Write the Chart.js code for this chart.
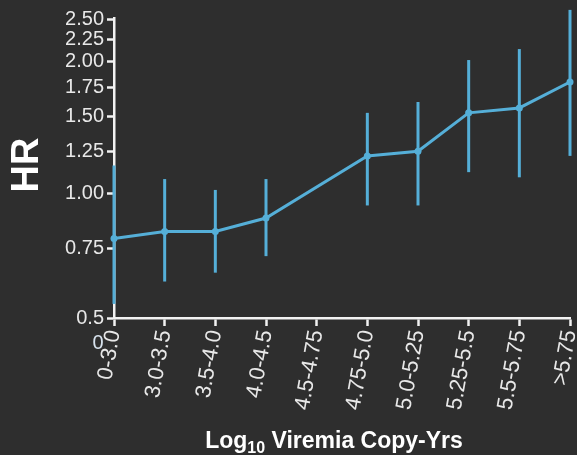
<!DOCTYPE html>
<html>
<head>
<meta charset="utf-8">
<script src="https://cdn.jsdelivr.net/npm/chart.js@4"></script>
<style>
  html, body { margin: 0; padding: 0; background: #2e2e2e; }
  #wrap { width: 577px; height: 455px; }
</style>
</head>
<body>
<div id="wrap"><canvas id="c" width="577" height="455"></canvas></div>
<script>
// Hazard ratio by cumulative viremia band, with 95% confidence limits
const categories = ['0-3.0', '3.0-3.5', '3.5-4.0', '4.0-4.5', '4.5-4.75', '4.75-5.0', '5.0-5.25', '5.25-5.5', '5.5-5.75', '>5.75'];
const hr     = [0.79, 0.82, 0.82, 0.88, null, 1.22, 1.25, 1.53, 1.57, 1.80];
const ciLow  = [0.56, 0.63, 0.66, 0.72, null, 0.94, 0.94, 1.12, 1.09, 1.22];
const ciHigh = [1.16, 1.08, 1.02, 1.08, null, 1.53, 1.62, 2.02, 2.14, 2.63];

// log axis from 0.52 to 2.52; the axis origin is labelled to one decimal
const yMin = 0.52;
const yMax = 2.52;
const yTicks      = [0.52, 0.75, 1, 1.25, 1.5, 1.75, 2, 2.25, 2.5];
const yTickLabels = ['0.5', '0.75', '1.00', '1.25', '1.50', '1.75', '2.00', '2.25', '2.50'];

const BG = '#2e2e2e';
const AXIS = '#f2f2f2';
const TEXT = '#e8e8e8';
const BLUE = '#55afd8';
const FONT = '"Liberation Sans", Arial, sans-serif';

const background = {
  id: 'background',
  beforeDraw(chart) {
    const ctx = chart.ctx;
    ctx.save();
    ctx.fillStyle = BG;
    ctx.fillRect(0, 0, chart.width, chart.height);
    ctx.restore();
  }
};

// vertical confidence-interval bars, no caps
const errorBars = {
  id: 'errorBars',
  afterDatasetsDraw(chart) {
    const { ctx, scales: { x, y } } = chart;
    ctx.save();
    ctx.strokeStyle = BLUE;
    ctx.lineWidth = 3;
    ctx.lineCap = 'butt';
    hr.forEach((v, i) => {
      if (v == null) return;
      const px = x.getPixelForValue(i);
      ctx.beginPath();
      ctx.moveTo(px, y.getPixelForValue(ciLow[i]));
      ctx.lineTo(px, y.getPixelForValue(ciHigh[i]));
      ctx.stroke();
    });
    ctx.restore();
  }
};

// axis titles: rotated "HR" and the x title with a subscript base
const axisTitles = {
  id: 'axisTitles',
  afterDraw(chart) {
    const { ctx, chartArea, scales: { y } } = chart;
    ctx.save();
    ctx.fillStyle = '#ffffff';

    // y title
    ctx.save();
    ctx.translate(28, (chartArea.top + chartArea.bottom) / 2 - 3);
    ctx.rotate(-Math.PI / 2);
    ctx.font = 'bold 38px ' + FONT;
    ctx.textAlign = 'center';
    ctx.textBaseline = 'middle';
    ctx.fillText('HR', 0, 0);
    ctx.restore();

    // x title
    const big = 'bold 23px ' + FONT;
    const small = 'bold 16px ' + FONT;
    ctx.textBaseline = 'alphabetic';
    ctx.textAlign = 'left';
    ctx.font = big;
    const w1 = ctx.measureText('Log').width;
    const w3 = ctx.measureText(' Viremia Copy-Yrs').width;
    ctx.font = small;
    const w2 = ctx.measureText('10').width;
    const total = w1 + w2 + w3;
    const cx = (chartArea.left + chartArea.right) / 2 - 8;
    let xx = cx - total / 2;
    const base = chart.height - 7;
    ctx.font = big;
    ctx.fillText('Log', xx, base);
    xx += w1;
    ctx.font = small;
    ctx.fillText('10', xx, base + 5);
    xx += w2;
    ctx.font = big;
    ctx.fillText(' Viremia Copy-Yrs', xx, base);

    // origin label below the y axis
    ctx.font = '20px ' + FONT;
    ctx.fillStyle = '#d8e3ee';
    ctx.textAlign = 'center';
    ctx.textBaseline = 'middle';
    ctx.fillText('0', y.right - 16, chartArea.bottom + 25);
    ctx.restore();
  }
};

new Chart(document.getElementById('c'), {
  type: 'line',
  data: {
    labels: categories,
    datasets: [{
      data: hr,
      borderColor: BLUE,
      backgroundColor: BLUE,
      borderWidth: 3,
      pointRadius: 3.5,
      pointHoverRadius: 3.5,
      pointBorderWidth: 0,
      tension: 0,
      spanGaps: true,
      clip: false
    }]
  },
  options: {
    responsive: false,
    animation: false,
    devicePixelRatio: 1,
    layout: { padding: { top: 18, right: 7, left: 0, bottom: 0 } },
    plugins: {
      legend: { display: false },
      tooltip: { enabled: false },
      title: { display: false }
    },
    scales: {
      x: {
        type: 'category',
        offset: false,
        grid: {
          drawOnChartArea: false,
          drawTicks: true,
          tickLength: 8,
          tickWidth: 2.5,
          tickColor: AXIS
        },
        border: { display: true, color: AXIS, width: 2.5 },
        ticks: {
          autoSkip: false,
          minRotation: 80,
          maxRotation: 80,
          color: TEXT,
          padding: 2,
          font: { family: FONT, size: 22 }
        },
        afterFit(s) {
          s.height = 137;
          s.paddingLeft = 0;
          s.paddingRight = 0;
        }
      },
      y: {
        type: 'logarithmic',
        min: yMin,
        max: yMax,
        grid: {
          drawOnChartArea: false,
          drawTicks: true,
          tickLength: 7,
          tickWidth: 2.5,
          tickColor: AXIS
        },
        border: { display: true, color: AXIS, width: 2.5 },
        afterBuildTicks(s) { s.ticks = yTicks.map(v => ({ value: v })); },
        ticks: {
          color: TEXT,
          padding: 3,
          font: { family: FONT, size: 20 },
          callback(value) {
            const i = yTicks.indexOf(value);
            return i >= 0 ? yTickLabels[i] : '';
          }
        },
        afterFit(s) { s.width = 114; }
      }
    }
  },
  plugins: [background, errorBars, axisTitles]
});
</script>
</body>
</html>
